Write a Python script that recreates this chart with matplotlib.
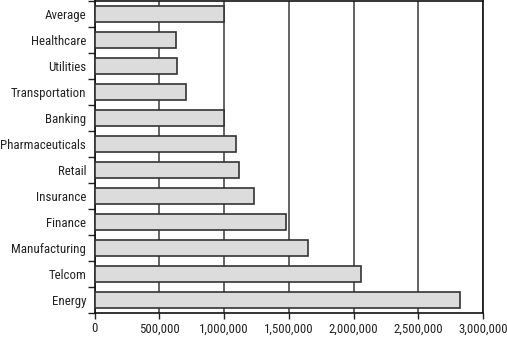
import matplotlib.pyplot as plt
import numpy as np
from matplotlib.ticker import FuncFormatter
from matplotlib import font_manager

# Industry averages, listed top to bottom
industries = [
    "Average", "Healthcare", "Utilities", "Transportation", "Banking",
    "Pharmaceuticals", "Retail", "Insurance", "Finance", "Manufacturing",
    "Telcom", "Energy",
]
values = [
    1000000, 630000, 637000, 709000, 1000000,
    1095000, 1118000, 1229000, 1481000, 1646000,
    2058000, 2822000,
]
x_ticks = [0, 500000, 1000000, 1500000, 2000000, 2500000, 3000000]

names = {f.name for f in font_manager.fontManager.ttflist}
family = next((n for n in ["Roboto Condensed", "Archivo Narrow", "Asap Condensed",
                           "Barlow Condensed"] if n in names), "DejaVu Sans")
plt.rcParams["font.family"] = [family, "DejaVu Sans"]

fig = plt.figure(figsize=(5.07, 3.37), dpi=100)
ax = fig.add_axes([0.1864, 0.072, 0.7663, 0.926])

pos = np.arange(len(industries))
ax.barh(pos, values, height=0.62, color="#dcdcdc", edgecolor="#333333",
        linewidth=1.2, zorder=3)

ax.set_xlim(0, 3000000)
ax.set_ylim(len(industries) - 0.5, -0.5)
ax.set_xticks(x_ticks)
ax.xaxis.set_major_formatter(FuncFormatter(lambda v, _: f"{int(v):,}"))
ax.grid(axis="x", color="#3a3a3a", linewidth=1.1, zorder=0)

# labels sit between ticks that mark category boundaries
ax.set_yticks(pos)
ax.set_yticklabels(industries)
ax.set_yticks(np.arange(len(industries) + 1) - 0.5, minor=True)
ax.tick_params(axis="y", which="major", length=0, pad=6, labelsize=9.3,
               labelcolor="#222222")
ax.tick_params(axis="y", which="minor", length=5, width=1, color="#222222")
ax.tick_params(axis="x", length=4, width=1, color="#222222", labelsize=9.3,
               labelcolor="#222222", pad=3)

for side in ax.spines.values():
    side.set_linewidth(1.2)
    side.set_color("#111111")

fig.savefig("out.png", dpi=100)
